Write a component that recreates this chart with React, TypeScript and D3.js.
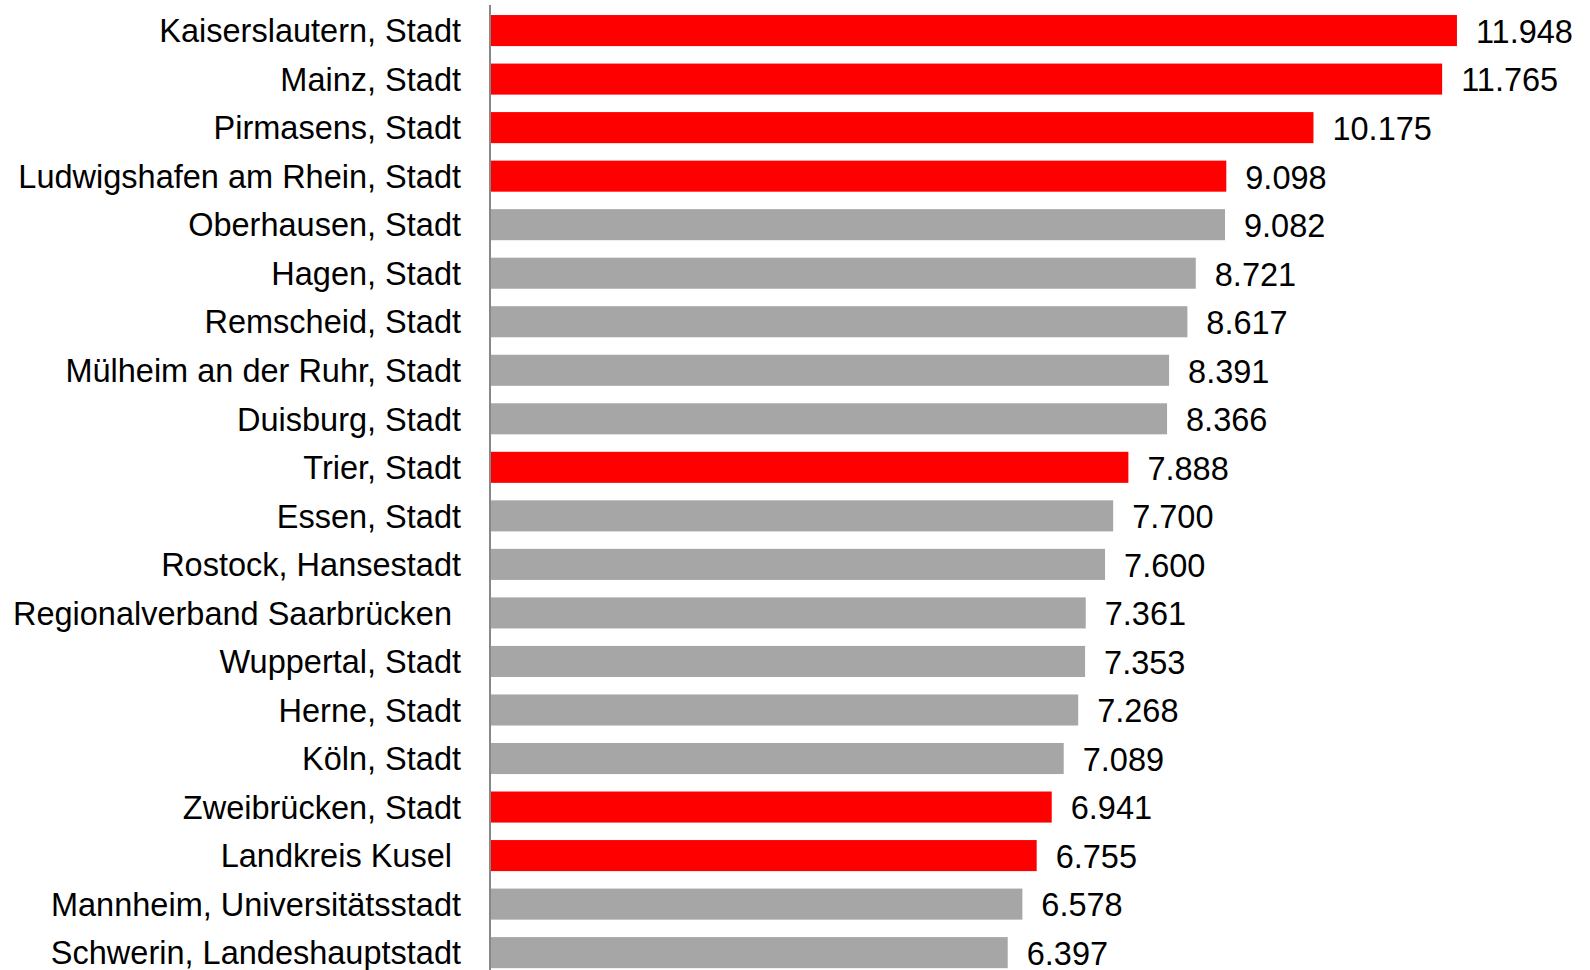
import React from 'react';
import * as d3 from 'd3';

// Kreise, sorted as in the source chart
const regions = [
  'Kaiserslautern, Stadt',
  'Mainz, Stadt',
  'Pirmasens, Stadt',
  'Ludwigshafen am Rhein, Stadt',
  'Oberhausen, Stadt',
  'Hagen, Stadt',
  'Remscheid, Stadt',
  'Mülheim an der Ruhr, Stadt',
  'Duisburg, Stadt',
  'Trier, Stadt',
  'Essen, Stadt',
  'Rostock, Hansestadt',
  'Regionalverband Saarbrücken ',
  'Wuppertal, Stadt',
  'Herne, Stadt',
  'Köln, Stadt',
  'Zweibrücken, Stadt',
  'Landkreis Kusel ',
  'Mannheim, Universitätsstadt',
  'Schwerin, Landeshauptstadt',
];

const values = [
  11948, 11765, 10175, 9098, 9082, 8721, 8617, 8391, 8366, 7888,
  7700, 7600, 7361, 7353, 7268, 7089, 6941, 6755, 6578, 6397,
];

// true = Rheinland-Pfalz (highlighted red)
const highlight = [
  true, true, true, true, false, false, false, false, false, true,
  false, false, false, false, false, false, true, true, false, false,
];

const WIDTH = 1590;
const HEIGHT = 970;
const RED = '#ff0000';
const GREY = '#a6a6a6';
const FONT = "'Liberation Sans', Arial, sans-serif";

const de = d3.formatLocale({ decimal: ',', thousands: '.', grouping: [3], currency: ['', '€'] });
const fmt = de.format(',.0f');

const App: React.FC = () => {
  const x0 = 490;
  const x = d3.scaleLinear().domain([0, 13000]).range([x0, x0 + 80.93 * 13]);
  const y = d3
    .scaleBand<string>()
    .domain(regions)
    .range([6.3, 976.9])
    .paddingInner(0.36)
    .paddingOuter(0.18);

  return (
    <svg
      width={WIDTH}
      height={HEIGHT}
      style={{ position: 'fixed', left: 0, top: 0, background: '#fff' }}
      fontFamily={FONT}
    >
      {regions.map((r, i) => {
        const yy = y(r)!;
        const bw = y.bandwidth();
        return (
          <g key={r}>
            <rect
              x={x(0)}
              y={yy}
              width={x(values[i]) - x(0)}
              height={bw}
              fill={highlight[i] ? RED : GREY}
            />
            <text
              x={461}
              y={yy + bw / 2}
              dy="0.36em"
              textAnchor="end"
              fontSize={32.5}
              fill="#000"
              style={{ whiteSpace: 'pre' }}
            >
              {r}
            </text>
            <text
              x={x(values[i]) + 19}
              y={yy + bw / 2}
              dy="0.38em"
              textAnchor="start"
              fontSize={32.5}
              fill="#000"
            >
              {fmt(values[i])}
            </text>
          </g>
        );
      })}
      <line x1={x0} x2={x0} y1={5} y2={HEIGHT} stroke="#888" strokeWidth={2} />
    </svg>
  );
};

export default App;
